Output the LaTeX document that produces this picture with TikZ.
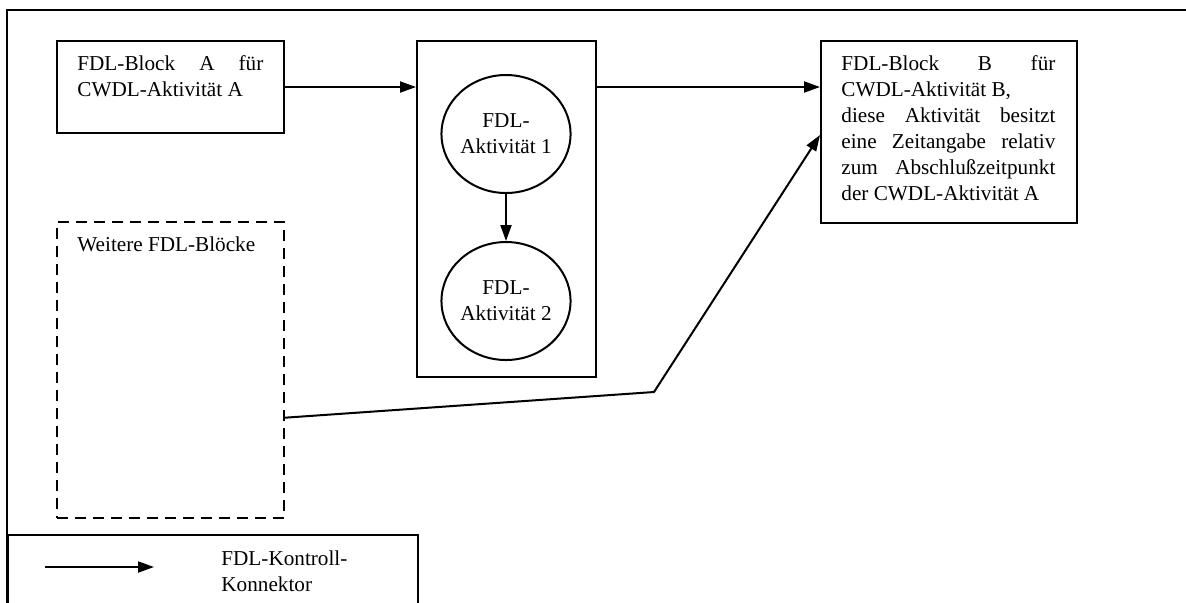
\documentclass[tikz,border=0pt]{standalone}
\usepackage{fontspec}
\setmainfont{Liberation Serif}
\usepackage{tikz}
\usetikzlibrary{shapes.geometric, arrows.meta, positioning, calc}
\newcommand{\fdlfont}{\fontsize{10.6}{13}\selectfont\hyphenpenalty=10000\exhyphenpenalty=10000}
\tikzset{
  blockbox/.style={rectangle, draw=black, line width=1pt, inner sep=0pt},
  dashbox/.style={blockbox, dash pattern=on 5.5pt off 3.5pt},
  actnode/.style={ellipse, draw=black, line width=1pt, minimum width=62pt, minimum height=59pt, inner sep=0pt, align=center, font=\fdlfont},
  blocktext/.style={anchor=north west, inner sep=0pt, align=justify, font=\fdlfont},
  ctrlarrow/.style={-{Triangle[length=8pt,width=5.5pt]}, line width=1pt},
  frameline/.style={line width=1pt}
}

\begin{document}
\begin{tikzpicture}[x=0.5pt, y=-0.5pt]
  \useasboundingbox (0,0) rectangle (1186,602);
  \clip (0,0) rectangle (1186,602);
  \draw[frameline] (7,640) |- (1220,10);

  % FDL-Bloecke
  \node[blockbox, minimum width=113.5pt, minimum height=46pt] (blockA) at (170.5,87) {};
  \node[blocktext, text width=93pt] (blockAtext) at ([shift={(21,15)}]blockA.north west) {FDL-Block A für\linebreak CWDL-Aktivität A};

  \node[blockbox, minimum width=89.5pt, minimum height=168pt] (midbox) at (506.5,209) {};
  \node[actnode] (act1) at (506,134) {FDL-\\Aktivität 1};
  \node[actnode] (act2) at (506,301) {FDL-\\Aktivität 2};

  \node[blockbox, minimum width=128pt, minimum height=91pt] (blockB) at (949,132) {};
  \node[blocktext, text width=107pt] (blockBtext) at ([shift={(21,15)}]blockB.north west) {FDL-Block B für\linebreak CWDL-Aktivität B,\par diese Aktivität besitzt\linebreak eine Zeitangabe relativ\linebreak zum Abschlußzeitpunkt\linebreak der CWDL-Aktivität A};

  \node[dashbox, minimum width=113.5pt, minimum height=148pt] (moreblocks) at (170.5,370) {};
  \node[blocktext, align=left] (moretext) at ([shift={(21,15)}]moreblocks.north west) {Weitere FDL-Blöcke};

  % Kontroll-Konnektoren
  \draw[ctrlarrow] (blockA.east) -- (blockA.east -| midbox.west);
  \draw[ctrlarrow] (blockA.east -| midbox.east) -- (blockA.east -| blockB.west);
  \draw[ctrlarrow] (act1) -- (act2);
  \coordinate (kink) at (654,392);
  \draw[ctrlarrow] ($(moreblocks.south east)!0.34!(moreblocks.north east)$) -- (kink) -- ([yshift=-1.5pt]blockB.west);

  % Legende
  \node[blockbox, anchor=north west, minimum width=205pt, minimum height=50pt] (legend) at (7,534) {};
  \coordinate (legfrom) at (45,567);
  \coordinate (legto) at (154,567);
  \draw[ctrlarrow] (legfrom) -- (legto);
  \node[anchor=west, inner sep=0pt, align=left, font=\fdlfont] (legendtext) at (221,571) {FDL-Kontroll-\\Konnektor};
\end{tikzpicture}
\end{document}
